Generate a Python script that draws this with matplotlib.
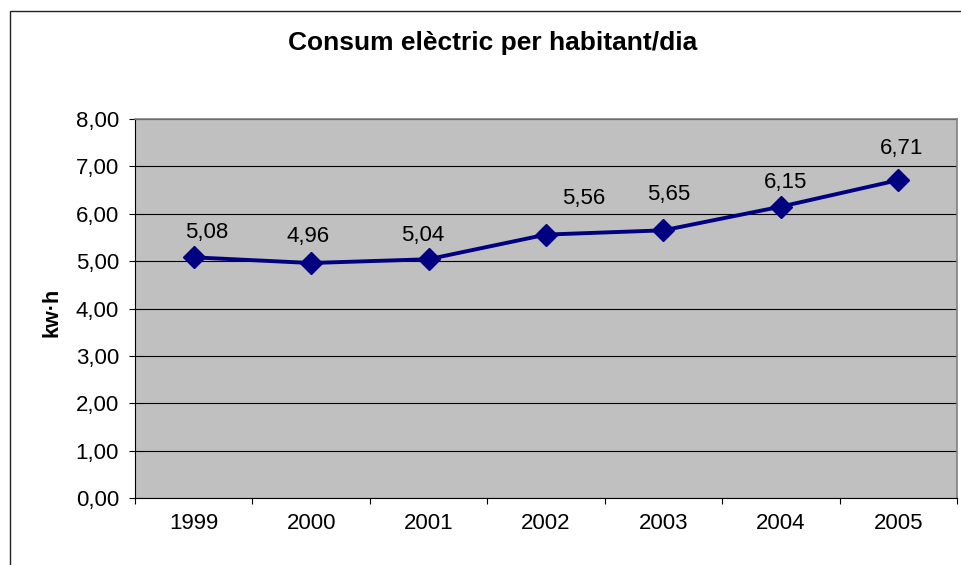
import matplotlib.pyplot as plt
from matplotlib.patches import Rectangle

years = ["1999", "2000", "2001", "2002", "2003", "2004", "2005"]
consum = [5.08, 4.96, 5.04, 5.56, 5.65, 6.15, 6.71]
value_labels = ["5,08", "4,96", "5,04", "5,56", "5,65", "6,15", "6,71"]
y_ticks = [0, 1, 2, 3, 4, 5, 6, 7, 8]
y_tick_labels = ["0,00", "1,00", "2,00", "3,00", "4,00", "5,00", "6,00", "7,00", "8,00"]

# label offsets in pixels (dx, dy) as placed in the original chart
label_offsets = [(13, 25), (-3, 27), (-6, 24), (38, 36), (5, 36), (5, 24), (3, 32)]

plt.rcParams['font.family'] = ['Liberation Sans', 'DejaVu Sans']

fig = plt.figure(figsize=(9.62, 5.65), dpi=100)
fig.patch.set_facecolor('white')

# outer chart frame (cropped on right and bottom)
fig.patches.append(Rectangle((10 / 962, -0.1), 1.2, 1.1 - 11 / 565,
                             transform=fig.transFigure, fill=False,
                             edgecolor='#222222', linewidth=1.0))

ax = fig.add_axes([135 / 962, 67 / 565, 822 / 962, 379 / 565])
ax.set_facecolor('#C0C0C0')

x = list(range(len(years)))
ax.plot(x, consum, color='#000080', linewidth=2.8, marker='D', markersize=11,
        markerfacecolor='#000080', markeredgecolor='#000080', zorder=3)

for xi, yi, lab, (dx, dy) in zip(x, consum, value_labels, label_offsets):
    ax.annotate(lab, (xi, yi), xytext=(dx * 0.72, dy * 0.72), textcoords='offset points',
                ha='center', va='center', fontsize=16, color='black')

ax.set_xlim(-0.5, len(years) - 0.5)
ax.set_ylim(0, 8)
ax.set_yticks(y_ticks)
ax.set_yticklabels(y_tick_labels)
ax.yaxis.grid(True, color='black', linewidth=0.8)
ax.set_axisbelow(True)

ax.set_xticks([i - 0.5 for i in range(len(years) + 1)])
ax.set_xticklabels([])
ax.set_xticks(x, minor=True)
ax.set_xticklabels(years, minor=True)
ax.tick_params(axis='x', which='major', length=4.5, width=0.8, color='black')
ax.tick_params(axis='x', which='minor', length=0, pad=11, labelsize=16)
ax.tick_params(axis='y', length=4.5, width=0.8, pad=7, labelsize=16)

for side in ['top', 'right']:
    ax.spines[side].set_color('#808080')
    ax.spines[side].set_linewidth(1.2)
for side in ['left', 'bottom']:
    ax.spines[side].set_color('black')
    ax.spines[side].set_linewidth(0.8)

fig.text(493 / 962, 1 - 43 / 565, "Consum elèctric per habitant/dia", ha='center', va='center',
         fontsize=19, fontweight='bold')
fig.text(52 / 962, 1 - 312 / 565, "kw·h", ha='center', va='center', rotation=90,
         fontsize=15.5, fontweight='bold')

fig.savefig('out.png', dpi=100)
